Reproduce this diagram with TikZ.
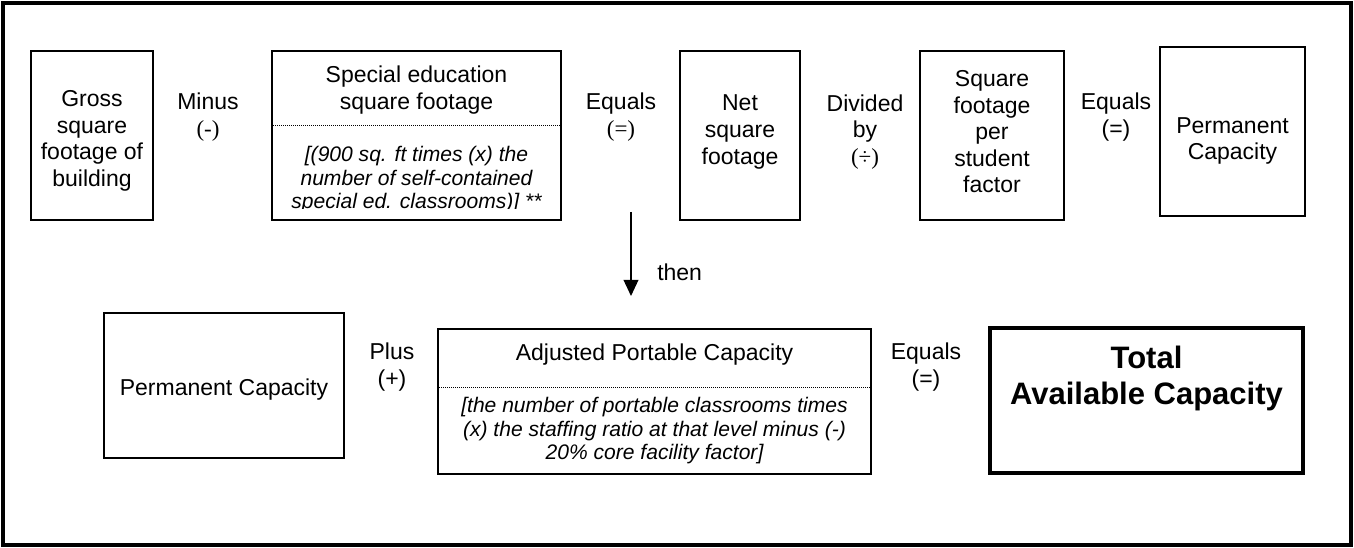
\documentclass[tikz,border=0pt]{standalone}
\usepackage{fontspec}
\setmainfont{Liberation Sans}
\newfontfamily\opfont{Liberation Serif}
\usetikzlibrary{fit,arrows.meta}
\begin{document}
\begin{tikzpicture}[x=0.75pt,y=-0.75pt,
    box/.style={draw,line width=1.1pt,inner sep=0pt},
    bigbox/.style={draw,line width=2.6pt,inner sep=0pt},
    words/.style={align=center,font=\fontsize{17.25}{19.9}\selectfont,inner sep=0pt},
    note/.style={align=center,font=\fontsize{15.8}{17.6}\selectfont\itshape,inner sep=0pt},
    bold/.style={align=center,font=\fontsize{23.25}{27}\selectfont\bfseries,inner sep=0pt},
    divider/.style={line width=0.6pt,dash pattern=on 0.7pt off 0.8pt},
    >={Triangle[length=12pt,width=11pt]}]
  \useasboundingbox (0,0) rectangle (1354,548);
  \draw[line width=2.4pt] (3,3) rectangle (1351,545);
  \draw
    (31,51) coordinate (g1) (153,220) coordinate (g2)
    (272,51) coordinate (s1) (561,220) coordinate (s2)
    (680,51) coordinate (n1) (800,220) coordinate (n2)
    (920,51) coordinate (f1) (1064,220) coordinate (f2)
    (1160,47) coordinate (p1) (1305,216) coordinate (p2)
    (104,313) coordinate (q1) (344,458) coordinate (q2)
    (438,329) coordinate (a1) (871,474) coordinate (a2)
    (990,328) coordinate (t1) (1303,473) coordinate (t2);
  \node[box,fit=(g1)(g2)] (gross) {};
  \node[box,fit=(s1)(s2)] (special) {};
  \node[box,fit=(n1)(n2)] (net) {};
  \node[box,fit=(f1)(f2)] (factor) {};
  \node[box,fit=(p1)(p2)] (perm) {};
  \node[box,fit=(q1)(q2)] (permtwo) {};
  \node[box,fit=(a1)(a2)] (portable) {};
  \node[bigbox,fit=(t1)(t2)] (total) {};
  \node[words] (grosstext) at (92,141) {Gross\\square\\footage of\\building};
  \node[words] (minus) at (208,117) {Minus\\{\opfont (-)}};
  \node[words] (specialtext) at (416.5,90) {Special education\\square footage};
  \draw[divider] (special.west |- 0,125) -- (special.east |- 0,125);
  \begin{scope}
    \clip (272,51) rectangle (561,209);
    \node[note] (specialnote) at (416.5,180) {[(900 sq. ft times (x) the\\number of self-contained\\special ed. classrooms)] **};
  \end{scope}
  \node[words] (equalsone) at (621,117) {Equals\\{\opfont (=)}};
  \node[words] (nettext) at (740,132) {Net\\square\\footage};
  \node[words] (divided) at (865,132) {Divided\\by\\{\opfont (÷)}};
  \node[words] (factortext) at (992,132) {Square\\footage\\per\\student\\factor};
  \node[words] (equalstwo) at (1116,117) {Equals\\(=)};
  \node[words] (permtext) at (1232.5,141) {Permanent\\Capacity};
  \coordinate (thenstart) at (631,212);
  \coordinate (thenend) at (631,296);
  \draw[->,line width=1.1pt] (thenstart) -- (thenend);
  \node[words,anchor=west] (then) at (657,272) {then};
  \node[words] (permtwotext) at (224,390) {Permanent Capacity};
  \node[words] (plus) at (392,367) {Plus\\(+)};
  \node[words] (portabletext) at (654.5,355) {Adjusted Portable Capacity};
  \draw[divider] (portable.west |- 0,387) -- (portable.east |- 0,387);
  \node[note] (portablenote) at (654.5,431) {[the number of portable classrooms times\\(x) the staffing ratio at that level minus (-)\\20\% core facility factor]};
  \node[words] (equalsthree) at (926,367) {Equals\\(=)};
  \node[bold] (totaltext) at (1146.5,378) {Total\\Available Capacity};
\end{tikzpicture}
\end{document}
